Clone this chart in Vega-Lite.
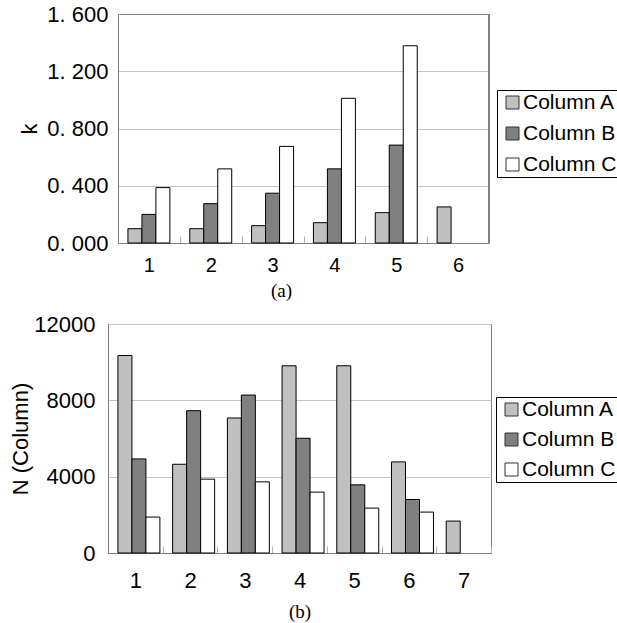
{
  "$schema": "https://vega.github.io/schema/vega-lite/v6.json",
  "background": "white",
  "padding": {"left": 9, "top": 3, "right": -3, "bottom": 3},
  "spacing": 11,
  "bounds": "full",
  "resolve": {"scale": {"fill": "independent"}, "legend": {"fill": "independent"}},
  "config": {
    "font": "Liberation Sans",
    "view": {"stroke": "#808080", "strokeWidth": 1},
    "axis": {
      "domainColor": "#808080",
      "gridColor": "#c4c4c4",
      "labelColor": "#000000",
      "titleColor": "#000000",
      "labelFont": "Liberation Sans",
      "titleFont": "Liberation Sans",
      "titleFontWeight": "normal"
    },
    "legend": {
      "title": null,
      "orient": "none",
      "symbolType": "square",
      "symbolSize": 169,
      "symbolStrokeColor": "#333333",
      "symbolStrokeWidth": 1,
      "labelFont": "Liberation Sans",
      "labelFontSize": 21,
      "labelColor": "#000000",
      "labelLimit": 400,
      "strokeColor": "#000000",
      "fillColor": "#ffffff",
      "padding": 2,
      "labelOffset": 0,
      "symbolOffset": 3
    }
  },
  "vconcat": [
    {
      "width": 381,
      "height": 229,
      "view": {"stroke": null},
      "data": {
        "values": [
          {"group": 1, "series": "Column A", "k": 0.100},
          {"group": 1, "series": "Column B", "k": 0.200},
          {"group": 1, "series": "Column C", "k": 0.387},
          {"group": 2, "series": "Column A", "k": 0.100},
          {"group": 2, "series": "Column B", "k": 0.275},
          {"group": 2, "series": "Column C", "k": 0.518},
          {"group": 3, "series": "Column A", "k": 0.121},
          {"group": 3, "series": "Column B", "k": 0.348},
          {"group": 3, "series": "Column C", "k": 0.675},
          {"group": 4, "series": "Column A", "k": 0.142},
          {"group": 4, "series": "Column B", "k": 0.518},
          {"group": 4, "series": "Column C", "k": 1.011},
          {"group": 5, "series": "Column A", "k": 0.212},
          {"group": 5, "series": "Column B", "k": 0.684},
          {"group": 5, "series": "Column C", "k": 1.378},
          {"group": 6, "series": "Column A", "k": 0.252}
        ]
      },
      "layer": [
        {
          "mark": {"type": "bar", "stroke": "#000000", "strokeWidth": 1},
          "encoding": {
            "x": {
              "field": "group",
              "type": "ordinal",
              "scale": {"domain": [1, 2, 3, 4, 5, 6], "range": [10, 381], "paddingInner": 0, "paddingOuter": 0},
              "axis": {
                "title": "(a)",
                "titleFont": "Liberation Serif",
                "titleFontSize": 19,
                "titleX": 173,
                "titlePadding": 6.5,
                "labelAngle": 0,
                "labelFontSize": 20,
                "tickBand": "extent",
                "tickSize": -7,
                "tickColor": "#b0b0b0",
                "labelPadding": 19
              }
            },
            "xOffset": {
              "field": "series",
              "type": "nominal",
              "scale": {"domain": ["Column A", "Column B", "Column C"], "paddingOuter": 0.71, "paddingInner": 0}
            },
            "y": {
              "field": "k",
              "type": "quantitative",
              "scale": {"domain": [0, 1.6], "nice": false},
              "axis": {
                "values": [0, 0.4, 0.8, 1.2, 1.6],
                "labelExpr": "replace(format(datum.value, '.3f'), '.', '. ')",
                "labelFontSize": 22,
                "ticks": false,
                "offset": -10,
                "labelPadding": 10,
                "gridColor": {"condition": {"test": "datum.value >= 1.6", "value": "#808080"}, "value": "#c4c4c4"},
                "title": "k",
                "titleFontSize": 22,
                "titlePadding": 5
              }
            },
            "fill": {
              "field": "series",
              "type": "nominal",
              "scale": {"domain": ["Column A", "Column B", "Column C"], "range": ["#c0c0c0", "#808080", "#ffffff"]},
              "legend": {"legendX": 389, "legendY": 76, "rowPadding": 9}
            }
          }
        },
        {
          "mark": {"type": "rule", "color": "#808080", "strokeWidth": 1},
          "encoding": {
            "x": {"datum": 6, "type": "ordinal", "bandPosition": 1},
            "y": {"datum": 0, "type": "quantitative"},
            "y2": {"datum": 1.6}
          }
        }
      ]
    },
    {
      "width": 383,
      "height": 229,
      "data": {
        "values": [
          {"group": 1, "series": "Column A", "N": 10350},
          {"group": 1, "series": "Column B", "N": 4931},
          {"group": 1, "series": "Column C", "N": 1882},
          {"group": 2, "series": "Column A", "N": 4650},
          {"group": 2, "series": "Column B", "N": 7457},
          {"group": 2, "series": "Column C", "N": 3869},
          {"group": 3, "series": "Column A", "N": 7075},
          {"group": 3, "series": "Column B", "N": 8277},
          {"group": 3, "series": "Column C", "N": 3728},
          {"group": 4, "series": "Column A", "N": 9810},
          {"group": 4, "series": "Column B", "N": 6013},
          {"group": 4, "series": "Column C", "N": 3190},
          {"group": 5, "series": "Column A", "N": 9810},
          {"group": 5, "series": "Column B", "N": 3571},
          {"group": 5, "series": "Column C", "N": 2353},
          {"group": 6, "series": "Column A", "N": 4774},
          {"group": 6, "series": "Column B", "N": 2803},
          {"group": 6, "series": "Column C", "N": 2144},
          {"group": 7, "series": "Column A", "N": 1673}
        ]
      },
      "mark": {"type": "bar", "stroke": "#000000", "strokeWidth": 1},
      "encoding": {
        "x": {
          "field": "group",
          "type": "ordinal",
          "scale": {"domain": [1, 2, 3, 4, 5, 6, 7], "paddingInner": 0, "paddingOuter": 0},
          "axis": {
            "title": "(b)",
            "titleFont": "Liberation Serif",
            "titleFontSize": 19,
            "titlePadding": 11,
            "labelAngle": 0,
            "labelFontSize": 22,
            "tickBand": "extent",
            "tickSize": -7,
            "tickColor": "#b0b0b0",
            "labelPadding": 24
          }
        },
        "xOffset": {
          "field": "series",
          "type": "nominal",
          "scale": {"domain": ["Column A", "Column B", "Column C"], "paddingOuter": 0.78, "paddingInner": 0}
        },
        "y": {
          "field": "N",
          "type": "quantitative",
          "scale": {"domain": [0, 12000], "nice": false},
          "axis": {
            "values": [0, 4000, 8000, 12000],
            "format": "d",
            "labelFontSize": 22,
            "ticks": false,
            "labelPadding": 13,
            "title": "N (Column)",
            "titleFontSize": 22,
            "titlePadding": 1
          }
        },
        "fill": {
          "field": "series",
          "type": "nominal",
          "scale": {"domain": ["Column A", "Column B", "Column C"], "range": ["#c0c0c0", "#808080", "#ffffff"]},
          "legend": {"legendX": 388, "legendY": 73, "rowPadding": 8}
        }
      }
    }
  ]
}
